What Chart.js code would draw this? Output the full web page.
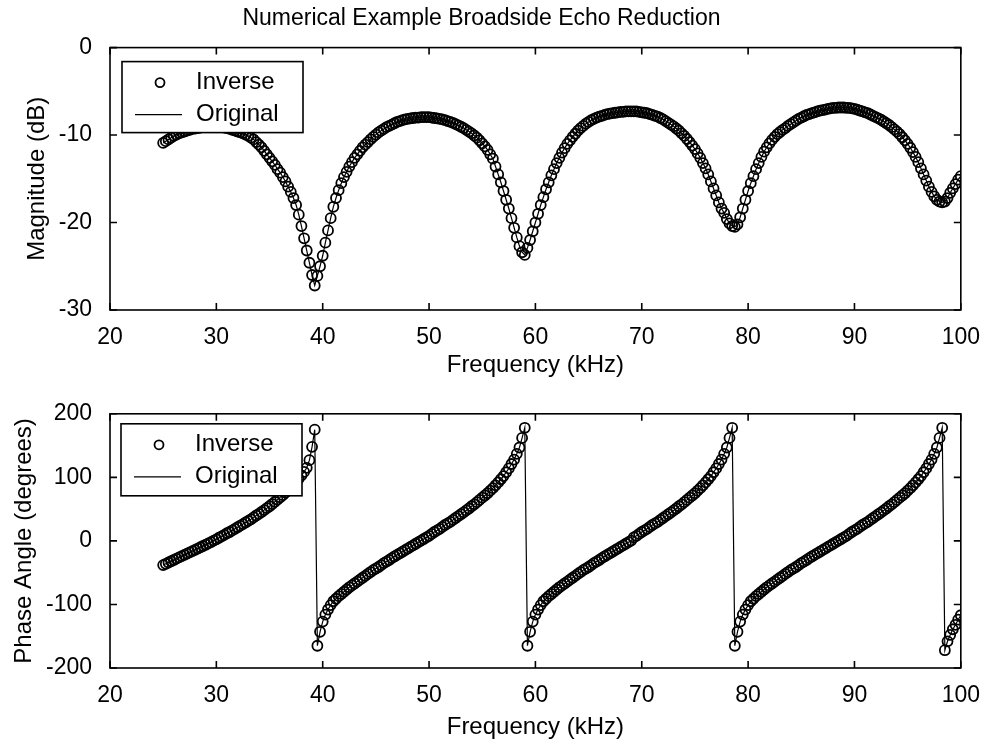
<!DOCTYPE html>
<html>
<head>
<meta charset="utf-8">
<script src="https://cdn.jsdelivr.net/npm/chart.js@4.4.0/dist/chart.umd.min.js"></script>
<style>
  html, body { margin: 0; padding: 0; background: #fff; }
  #wrap { position: relative; width: 986px; height: 744px; }
  #magChart { position: absolute; left: 0; top: 0; }
  #phaseChart { position: absolute; left: 0; top: 390px; }
</style>
</head>
<body>
<div id="wrap">
  <canvas id="magChart" width="986" height="390"></canvas>
  <canvas id="phaseChart" width="986" height="354"></canvas>
</div>
<script>
// sample grid: 25 kHz to 100 kHz every 0.25 kHz
const freqStart = 25;
const freqStep = 0.25;

// magnitude (dB), one row per 5 kHz
const magnitudeDb = [
  -10.9,-10.7,-10.5,-10.3, -10.1,-9.95,-9.8,-9.7, -9.6,-9.5,-9.4,-9.3, -9.25,-9.2,-9.15,-9.1, -9.05,-9.05,-9.0,-9.0,
  -9.05,-9.05,-9.1,-9.15, -9.2,-9.3,-9.4,-9.5, -9.6,-9.7,-9.8,-9.95, -10.1,-10.3,-10.5,-10.8, -11.1,-11.4,-11.8,-12.2,
  -12.6,-13.0,-13.4,-13.9, -14.3,-14.8,-15.3,-15.9, -16.5,-17.2,-18.0,-19.1, -20.4,-21.8,-23.2,-24.6, -26.0,-27.2,-26.1,-25.0,
  -23.8,-22.3,-20.9,-19.5, -18.2,-17.2,-16.3,-15.5, -14.8,-14.2,-13.6,-13.1, -12.6,-12.2,-11.8,-11.4, -11.1,-10.8,-10.5,-10.2,
  -9.95,-9.7,-9.5,-9.3, -9.1,-8.95,-8.8,-8.65, -8.5,-8.4,-8.3,-8.2, -8.15,-8.1,-8.05,-8.0, -8.0,-7.95,-7.95,-7.95,
  -7.95,-8.0,-8.05,-8.1, -8.15,-8.2,-8.3,-8.4, -8.5,-8.6,-8.75,-8.9, -9.05,-9.2,-9.4,-9.6, -9.8,-10.05,-10.3,-10.6,
  -10.95,-11.3,-11.7,-12.2, -12.7,-13.6,-14.5,-15.4, -16.4,-17.4,-18.4,-19.5, -20.6,-21.7,-22.7,-23.4, -23.7,-22.9,-22.0,-21.0,
  -20.0,-19.0,-18.0,-17.1, -16.2,-15.4,-14.6,-13.9, -13.2,-12.6,-12.0,-11.5, -11.0,-10.6,-10.2,-9.85, -9.5,-9.2,-8.95,-8.7,
  -8.5,-8.3,-8.15,-8.0, -7.9,-7.8,-7.7,-7.6, -7.55,-7.5,-7.45,-7.4, -7.35,-7.35,-7.3,-7.3, -7.3,-7.3,-7.3,-7.35,
  -7.4,-7.45,-7.5,-7.6, -7.7,-7.8,-7.9,-8.05, -8.2,-8.4,-8.6,-8.8, -9.0,-9.25,-9.5,-9.8, -10.1,-10.45,-10.8,-11.2,
  -11.6,-12.1,-12.6,-13.2, -13.8,-14.5,-15.3,-16.1, -16.9,-17.7,-18.4,-18.9, -19.6,-20.1,-20.4,-20.5, -20.2,-19.4,-18.4,-17.4,
  -16.4,-15.5,-14.7,-13.9, -13.2,-12.5,-11.9,-11.4, -10.95,-10.55,-10.2,-9.9, -9.65,-9.4,-9.2,-8.95, -8.75,-8.55,-8.35,-8.15,
  -8.0,-7.85,-7.7,-7.6, -7.5,-7.4,-7.3,-7.2, -7.15,-7.1,-7.0,-6.95, -6.9,-6.9,-6.85,-6.85, -6.85,-6.9,-6.9,-6.95,
  -7.0,-7.1,-7.2,-7.3, -7.4,-7.5,-7.65,-7.8, -7.95,-8.1,-8.25,-8.45, -8.65,-8.85,-9.1,-9.35, -9.6,-9.9,-10.25,-10.6,
  -11.0,-11.45,-11.95,-12.5, -13.1,-13.8,-14.5,-15.2, -15.9,-16.5,-17.0,-17.4, -17.6,-17.7,-17.6,-17.2, -16.6,-16.1,-15.6,-15.1,
  -14.7
];

// phase angle (degrees), one row per 5 kHz
const phaseDeg = [
  -38,-36,-34,-32, -30,-28,-26,-24, -22,-20,-18,-16, -14,-12,-10,-8, -6,-4,-2,0.5,
  2.5,5,7,9.5, 12,14,16.5,19, 21.5,24,26.5,29, 31.5,34,37,40, 42.5,45.5,48.5,51.5,
  54.5,58,61.5,65, 68.5,72,76,80, 84,88.5,93,98, 103,108.5,115,127, 148,175,-165,-143,
  -127,-116,-108,-101, -95,-91,-87,-83.5, -80,-76.5,-73,-70, -67,-64,-61,-58, -55,-52,-49,-46,
  -43.5,-41,-38,-35, -32.5,-30,-27,-24.5, -22,-19.5,-17,-14.5, -12,-9.5,-7,-4.5, -2,0.5,3,5.5,
  8,11,14,16.5, 19,22,25,27.5, 30,33,36,39, 42,45,48,51, 54.5,57.5,61,64.5,
  68,71.5,75,79, 83,87.5,92,97, 102,108,114,121, 128,137,147,162, 178,-165,-143,-127,
  -116,-108,-101,-95, -91,-87,-83.5,-80, -76.5,-73,-70,-67, -64,-61,-58,-55, -52,-49,-46,-43.5,
  -41,-38,-35,-32.5, -30,-27,-24.5,-22, -19.5,-17,-14.5,-12, -9.5,-7,-4.5,-2, 0.5,5.5,8,11,
  14,16.5,19,22, 25,27.5,30,33, 36,39,42,45, 48,51,54.5,57.5, 61,64.5,68,71.5,
  75,79,83,87.5, 92,97,102,108, 114,121,128,137, 147,162,178,-165, -143,-127,-116,-108,
  -101,-95,-91,-87, -83.5,-80,-76.5,-73, -70,-67,-64,-61, -58,-55,-52,-49, -46,-43.5,-41,-38,
  -35,-32.5,-30,-27, -24.5,-22,-19.5,-17, -14.5,-12,-9.5,-7, -4.5,-2,0.5,3, 5.5,8,11,14,
  16.5,19,22,25, 27.5,30,33,36, 39,42,45,48, 51,54.5,57.5,61, 64.5,68,71.5,75,
  79,83,87.5,92, 97,102,108,114, 121,128,137,147, 162,178,-172,-158, -148,-139,-132,-124,
  -117
];

const seriesNames = ['Inverse', 'Original'];
const freqTicks = { min: 20, max: 100, step: 10 };
const magTicks = { min: -30, max: 0, step: 10 };
const phaseTicks = { min: -200, max: 200, step: 100 };

Chart.defaults.font.family = '"Liberation Sans", Arial, sans-serif';
Chart.defaults.color = '#000';

function toPoints(values) {
  return values.map((v, i) => ({ x: freqStart + i * freqStep, y: v }));
}

// box + inward tick marks on all four sides, like a MATLAB axes
const matlabFrame = {
  id: 'matlabFrame',
  afterDraw(chart) {
    const { ctx, chartArea: a, scales } = chart;
    const len = 7;
    ctx.save();
    ctx.strokeStyle = '#000';
    ctx.lineWidth = 1.6;
    ctx.strokeRect(a.left, a.top, a.right - a.left, a.bottom - a.top);
    ctx.beginPath();
    scales.x.ticks.forEach(t => {
      const px = scales.x.getPixelForValue(t.value);
      ctx.moveTo(px, a.bottom); ctx.lineTo(px, a.bottom - len);
      ctx.moveTo(px, a.top); ctx.lineTo(px, a.top + len);
    });
    scales.y.ticks.forEach(t => {
      const py = scales.y.getPixelForValue(t.value);
      ctx.moveTo(a.left, py); ctx.lineTo(a.left + len, py);
      ctx.moveTo(a.right, py); ctx.lineTo(a.right - len, py);
    });
    ctx.stroke();
    ctx.restore();
  }
};

// legend drawn inside the plot, white box with black border
const boxLegend = {
  id: 'boxLegend',
  afterDatasetsDraw(chart, args, opts) {
    const { ctx, chartArea: a } = chart;
    const x = a.left + opts.dx, y = a.top + opts.dy;
    ctx.save();
    ctx.fillStyle = '#fff';
    ctx.fillRect(x, y, opts.w, opts.h);
    ctx.strokeStyle = '#000';
    ctx.lineWidth = 1.6;
    ctx.strokeRect(x, y, opts.w, opts.h);
    const row1 = y + 21, row2 = y + 53;
    ctx.lineWidth = 1.8;
    ctx.beginPath();
    ctx.arc(x + 38, row1, 4.5, 0, Math.PI * 2);
    ctx.stroke();
    ctx.lineWidth = 1.2;
    ctx.beginPath();
    ctx.moveTo(x + 13, row2); ctx.lineTo(x + 60, row2);
    ctx.stroke();
    ctx.fillStyle = '#000';
    ctx.font = '24px "Liberation Sans", Arial, sans-serif';
    ctx.textBaseline = 'middle';
    ctx.fillText(chart.data.datasets[0].label, x + 74, row1);
    ctx.fillText(chart.data.datasets[1].label, x + 74, row2);
    ctx.restore();
  }
};

function makeDatasets(values) {
  return [{
    label: seriesNames[0],
    data: toPoints(values),
    showLine: false,
    pointStyle: 'circle',
    pointRadius: 5,
    pointBorderWidth: 1.8,
    pointBorderColor: '#000',
    pointBackgroundColor: 'rgba(0,0,0,0)'
  }, {
    label: seriesNames[1],
    data: toPoints(values),
    showLine: true,
    borderColor: '#000',
    borderWidth: 1.2,
    pointRadius: 0
  }];
}

function makeOptions(cfg) {
  return {
    responsive: false,
    animation: false,
    events: [],
    layout: { padding: { top: cfg.padTop, right: 23, left: 0, bottom: 0 } },
    plugins: {
      legend: { display: false },
      tooltip: { enabled: false },
      title: cfg.title ? {
        display: true, text: cfg.title, color: '#000',
        font: { size: 23, weight: 'normal', lineHeight: 1.2 },
        padding: { top: 5, bottom: 15 }
      } : { display: false },
      boxLegend: cfg.legend
    },
    scales: {
      x: {
        type: 'linear', min: freqTicks.min, max: freqTicks.max,
        ticks: { stepSize: freqTicks.step, padding: 6, font: { size: 23 }, color: '#000' },
        grid: { display: false }, border: { display: false },
        title: { display: true, text: 'Frequency (kHz)', color: '#000',
                 font: { size: 24, lineHeight: 1.2 }, padding: { top: 0, bottom: cfg.xTitlePad } },
        afterFit: s => { s.height = cfg.xHeight; }
      },
      y: {
        min: cfg.yTicks.min, max: cfg.yTicks.max,
        ticks: { stepSize: cfg.yTicks.step, padding: 10, font: { size: 23 }, color: '#000' },
        grid: { display: false }, border: { display: false },
        title: { display: true, text: cfg.yTitle, color: '#000',
                 font: { size: 24, lineHeight: 1.2 }, padding: { top: cfg.yTitlePad, bottom: 0 } },
        afterFit: s => { s.width = 110; }
      }
    }
  };
}

new Chart(document.getElementById('magChart'), {
  type: 'scatter',
  data: { datasets: makeDatasets(magnitudeDb) },
  options: makeOptions({
    title: 'Numerical Example Broadside Echo Reduction',
    padTop: 0, xHeight: 80, xTitlePad: 10, yTicks: magTicks,
    yTitle: 'Magnitude (dB)', yTitlePad: 23,
    legend: { dx: 12, dy: 14, w: 181, h: 71 }
  }),
  plugins: [boxLegend, matlabFrame]
});

new Chart(document.getElementById('phaseChart'), {
  type: 'scatter',
  data: { datasets: makeDatasets(phaseDeg) },
  options: makeOptions({
    title: null,
    padTop: 18, xHeight: 76, xTitlePad: 2, yTicks: phaseTicks,
    yTitle: 'Phase Angle (degrees)', yTitlePad: 10,
    legend: { dx: 11, dy: 10, w: 181, h: 72 }
  }),
  plugins: [boxLegend, matlabFrame]
});
</script>
</body>
</html>
